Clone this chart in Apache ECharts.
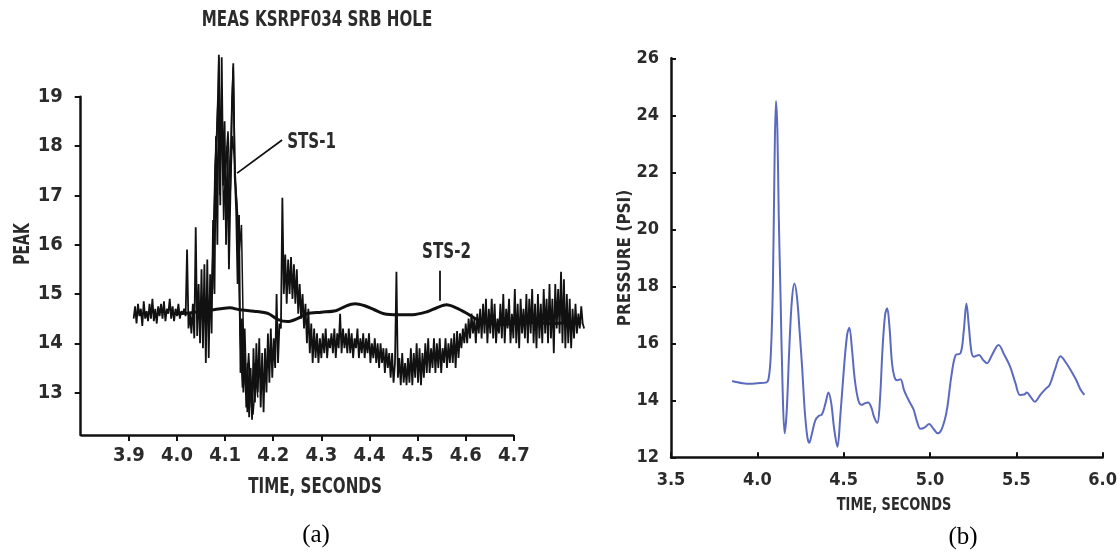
<!DOCTYPE html>
<html>
<head>
<meta charset="utf-8">
<script src="https://cdn.jsdelivr.net/npm/echarts@6.0.0/dist/echarts.min.js"></script>
<style>
  html, body { margin: 0; padding: 0; background: #ffffff; }
  #chart { width: 1120px; height: 552px; }
</style>
</head>
<body>
<div id="chart"></div>
<script>
// ---- Panel (a): MEAS KSRPF034 SRB HOLE ----
const A_X_TICKS = [3.9, 4.0, 4.1, 4.2, 4.3, 4.4, 4.5, 4.6, 4.7];
const A_Y_TICKS = [13, 14, 15, 16, 17, 18, 19];

// STS-1 record, sampled every 3 ms from 3.910 s
const STS1_START = 3.910;
const STS1_STEP = 0.003;
const STS1_VALUES = [
  14.5, 14.75, 14.4, 14.8, 14.55, 14.7, 14.35, 14.85, 14.5, 14.65,
  14.45, 14.8, 14.5, 14.9, 14.45, 14.7, 14.4, 14.75, 14.55, 14.8,
  14.5, 14.85, 14.45, 14.7, 14.6, 14.9, 14.5, 14.75, 14.45, 14.7,
  14.55, 14.8, 14.5, 14.65, 14.6, 14.7, 14.55, 15.9, 14.3, 14.6,
  14.2, 14.8, 14.1, 16.35, 14.15, 15.2, 14.0, 15.5, 13.9, 15.6,
  13.6, 15.7, 13.7, 15.4, 14.2, 16.5, 15.0, 18.2, 16.0, 19.85,
  16.8, 19.8, 17.2, 18.5, 16.0, 17.8, 15.5, 17.0, 18.6, 19.68,
  17.4, 16.7, 15.2, 16.6, 13.4, 14.5, 13.0, 13.8, 12.7, 13.6,
  12.5, 13.5, 12.45, 13.9, 12.8, 14.0, 13.0, 14.1, 12.7, 13.8,
  12.6, 13.9, 13.0, 14.2, 13.2, 14.3, 13.3, 14.1, 13.5, 15.0,
  13.6, 14.4, 14.3, 16.95, 15.0, 15.8, 14.8, 15.7, 15.0, 15.75,
  14.9, 15.6, 14.8, 15.5, 14.6, 15.2, 14.5, 15.0, 14.3, 14.8,
  14.0, 14.7, 13.8, 14.4, 13.6, 14.3, 13.7, 14.2, 13.6, 14.1,
  13.7, 14.2, 13.8, 14.3, 13.7, 14.1, 13.9, 14.2, 13.8, 14.3,
  13.7, 14.2, 13.9, 14.6, 13.8, 14.3, 13.9, 14.2, 13.8, 14.3,
  13.8, 14.2, 13.7, 14.1, 13.9, 14.3, 13.7, 14.1, 13.8, 14.2,
  13.7, 14.1, 13.8, 14.2, 13.6, 14.0, 13.7, 14.1, 13.6, 14.0,
  13.5, 14.0, 13.6, 13.9, 13.4, 13.9, 13.5, 13.8, 13.3, 13.8,
  13.2, 13.6, 15.45, 13.3, 13.7, 13.15, 13.8, 13.2, 13.6, 13.15,
  13.7, 13.2, 13.9, 13.15, 13.8, 13.3, 14.0, 13.2, 13.9, 13.15,
  13.8, 13.3, 14.0, 13.4, 14.1, 13.4, 13.9, 13.5, 14.1, 13.4,
  14.0, 13.5, 14.1, 13.4, 13.9, 13.6, 14.1, 13.5, 14.0, 13.6,
  14.1, 13.6, 14.2, 13.5, 14.25, 13.7, 14.2, 13.9, 14.3, 14.0,
  14.4, 14.0, 14.5, 14.1, 14.6, 14.2, 14.5, 14.0, 14.6, 14.2,
  14.7, 14.1, 14.8, 14.2, 14.9, 14.0, 14.7, 14.2, 14.9, 14.1,
  14.8, 14.0, 14.5, 14.2, 14.8, 14.1, 15.0, 14.0, 14.7, 14.3,
  14.9, 14.0, 14.6, 14.1, 15.1, 14.0, 14.8, 13.9, 14.9, 14.2,
  14.7, 14.1, 15.0, 14.0, 14.9, 14.2, 15.1, 14.0, 14.8, 13.9,
  15.0, 14.1, 14.8, 14.0, 15.1, 14.2, 14.9, 14.0, 15.2, 14.1,
  14.9, 13.8, 15.2, 14.3, 15.1, 14.2, 15.45, 14.0, 15.3, 13.9,
  15.0, 14.0, 14.9, 13.9, 14.7, 14.1, 14.8, 14.2, 14.6, 14.3,
  14.75, 14.4, 14.3
];

// Additional STS-1 passes through the ignition burst
const STS1_BURST_TIMES = [4.074, 4.079, 4.083, 4.087, 4.090, 4.094, 4.099, 4.104, 4.109, 4.114, 4.117, 4.121, 4.126, 4.131, 4.136, 4.141, 4.146, 4.152, 4.158, 4.163];
const STS1_BURST_VALUES = [15.1, 17.6, 18.3, 19.8, 17.9, 18.4, 17.3, 18.0, 16.6, 18.9, 19.6, 17.3, 16.6, 14.2, 13.1, 14.3, 12.6, 13.4, 12.55, 13.2];
const STS1_BURST2_TIMES = [4.070, 4.076, 4.081, 4.085, 4.089, 4.093, 4.097, 4.101, 4.106, 4.111, 4.115, 4.119, 4.124, 4.129, 4.134, 4.139, 4.144, 4.149, 4.155, 4.161, 4.168];
const STS1_BURST2_VALUES = [14.6, 16.2, 17.9, 18.9, 17.0, 18.7, 16.5, 17.6, 18.3, 17.1, 18.2, 17.8, 16.9, 15.8, 16.4, 13.6, 13.0, 13.8, 12.7, 13.6, 12.9];

// STS-2 record
const STS2_TIMES = [4.00, 4.03, 4.06, 4.09, 4.11, 4.13, 4.16, 4.19, 4.21, 4.23, 4.25, 4.27, 4.30, 4.33, 4.35, 4.37, 4.39, 4.41, 4.43, 4.46, 4.49, 4.52, 4.54, 4.56, 4.58, 4.60, 4.62, 4.64, 4.67, 4.70, 4.74, 4.78, 4.82, 4.84];
const STS2_VALUES = [14.6, 14.62, 14.66, 14.7, 14.72, 14.68, 14.65, 14.6, 14.48, 14.44, 14.5, 14.6, 14.63, 14.66, 14.75, 14.8, 14.76, 14.68, 14.6, 14.58, 14.58, 14.64, 14.72, 14.78, 14.72, 14.62, 14.5, 14.42, 14.38, 14.4, 14.42, 14.4, 14.42, 14.4];

// ---- Panel (b): pressure vs time ----
const B_X_TICKS = [3.5, 4.0, 4.5, 5.0, 5.5, 6.0];
const B_Y_TICKS = [12, 14, 16, 18, 20, 22, 24, 26];
const B_TIMES = [3.854, 3.88, 3.915, 3.96, 4.00, 4.049, 4.065, 4.078, 4.090, 4.100, 4.108, 4.116, 4.124, 4.135, 4.146, 4.158, 4.170, 4.185, 4.200, 4.215, 4.230, 4.245, 4.259, 4.275, 4.290, 4.301, 4.315, 4.336, 4.355, 4.374, 4.395, 4.412, 4.428, 4.445, 4.464, 4.480, 4.500, 4.520, 4.533, 4.548, 4.565, 4.585, 4.603, 4.625, 4.642, 4.660, 4.677, 4.695, 4.710, 4.725, 4.740, 4.752, 4.765, 4.780, 4.795, 4.810, 4.829, 4.850, 4.871, 4.890, 4.906, 4.925, 4.945, 4.970, 4.995, 5.020, 5.045, 5.065, 5.085, 5.101, 5.125, 5.149, 5.177, 5.195, 5.211, 5.225, 5.240, 5.254, 5.283, 5.310, 5.330, 5.360, 5.397, 5.430, 5.464, 5.495, 5.521, 5.545, 5.560, 5.585, 5.607, 5.640, 5.670, 5.693, 5.725, 5.756, 5.790, 5.820, 5.847, 5.870, 5.894];
const B_PRESSURE = [14.68, 14.64, 14.60, 14.58, 14.60, 14.62, 14.75, 15.6, 18.0, 22.5, 24.5, 23.5, 20.5, 17.5, 14.5, 12.84, 13.6, 15.8, 17.5, 18.1, 17.6, 16.4, 15.2, 13.6, 12.7, 12.51, 12.8, 13.3, 13.45, 13.5, 13.9, 14.27, 13.9, 13.0, 12.37, 13.4, 15.0, 16.3, 16.55, 15.8, 14.7, 14.0, 13.84, 13.9, 13.92, 13.75, 13.4, 13.21, 14.0, 15.8, 17.0, 17.23, 16.6, 15.3, 14.8, 14.7, 14.74, 14.35, 14.07, 13.85, 13.66, 13.25, 13.0, 13.05, 13.17, 13.0, 12.84, 12.95, 13.3, 13.78, 14.9, 15.59, 15.65, 16.4, 17.40, 16.6, 15.7, 15.53, 15.59, 15.4, 15.30, 15.6, 15.94, 15.6, 15.18, 14.6, 14.19, 14.2, 14.27, 14.1, 13.95, 14.2, 14.4, 14.54, 15.1, 15.55, 15.3, 15.0, 14.71, 14.4, 14.19];

const FONT = "'Liberation Sans Narrow', 'DejaVu Sans Condensed', Arial, sans-serif";
const SERIF = "'Liberation Serif', 'DejaVu Serif', serif";
const INK = '#111111';
const TEXT = '#2b2b2b';
const BLUE = '#5b6abf';

// Panel (a) time axis: labelled 3.8–4.7, the recording runs on past the last tick
const A_X_MIN = 3.8, A_X_AXIS_END = 4.7, A_X_MAX = 4.85;
const A_Y_MIN = 12.14, A_Y_MAX = 19;
const A_LEFT = 80.7, A_TOP = 96.7, A_PX_PER_SEC = 4813, A_HEIGHT = 338.3;

const pairs = (ts, vs) => ts.map((t, i) => [t, vs[i]]);
const sts1 = STS1_VALUES.map((v, i) => [+(STS1_START + i * STS1_STEP).toFixed(3), v]);
const sts1Burst = pairs(STS1_BURST_TIMES, STS1_BURST_VALUES);
const sts1Burst2 = pairs(STS1_BURST2_TIMES, STS1_BURST2_VALUES);
const sts2 = pairs(STS2_TIMES, STS2_VALUES);
const panelB = pairs(B_TIMES, B_PRESSURE);

const chart = echarts.init(document.getElementById('chart'), null, { renderer: 'canvas' });

const traceA = (name, data, width) => ({
  name: name, type: 'line', xAxisIndex: 0, yAxisIndex: 0, data: data,
  showSymbol: false, clip: false, lineStyle: { color: INK, width: width }
});

const option = {
  animation: false,
  backgroundColor: '#ffffff',
  grid: [
    { left: A_LEFT, top: A_TOP, width: (A_X_MAX - A_X_MIN) * A_PX_PER_SEC / 10, height: A_HEIGHT, containLabel: false },
    { left: 671, top: 58.3, width: 435.7, height: 399, containLabel: false }
  ],
  xAxis: [
    {
      gridIndex: 0, type: 'value', min: A_X_MIN, max: A_X_MAX,
      splitLine: { show: false },
      axisLine: { show: false },
      axisTick: { show: true, inside: false, length: 6, lineStyle: { color: INK, width: 2 }, customValues: A_X_TICKS },
      axisLabel: { show: true, margin: 11, color: TEXT, fontFamily: FONT, fontWeight: 'bold', fontSize: 20,
        customValues: A_X_TICKS, formatter: v => v.toFixed(1) }
    },
    {
      gridIndex: 1, type: 'value', min: 3.5, max: 6.0, interval: 0.5,
      splitLine: { show: false },
      axisLine: { show: true, onZero: false, lineStyle: { color: INK, width: 2.5 } },
      axisTick: { show: true, inside: true, length: 5, lineStyle: { color: INK, width: 2 }, customValues: B_X_TICKS },
      axisLabel: { show: true, margin: 14, color: TEXT, fontFamily: FONT, fontWeight: 'bold', fontSize: 18,
        customValues: B_X_TICKS, formatter: v => v.toFixed(1) }
    }
  ],
  yAxis: [
    {
      gridIndex: 0, type: 'value', min: A_Y_MIN, max: A_Y_MAX,
      splitLine: { show: false },
      axisLine: { show: true, onZero: false, lineStyle: { color: INK, width: 2.5 } },
      axisTick: { show: true, inside: false, length: 6, lineStyle: { color: INK, width: 2 }, customValues: A_Y_TICKS },
      axisLabel: { show: true, margin: 18, color: TEXT, fontFamily: FONT, fontWeight: 'bold', fontSize: 20,
        customValues: A_Y_TICKS, formatter: v => String(v) }
    },
    {
      gridIndex: 1, type: 'value', min: 12, max: 26, interval: 2,
      splitLine: { show: false },
      axisLine: { show: true, onZero: false, lineStyle: { color: INK, width: 2.5 } },
      axisTick: { show: true, inside: true, length: 5, lineStyle: { color: INK, width: 2 }, customValues: B_Y_TICKS },
      axisLabel: { show: true, margin: 12, color: TEXT, fontFamily: FONT, fontWeight: 'bold', fontSize: 18,
        customValues: B_Y_TICKS, formatter: v => String(v) }
    }
  ],
  series: [
    Object.assign(traceA('STS-1', sts1, 1.8), {
      // time axis baseline, stopping at the last labelled tick
      markLine: {
        silent: true, animation: false, symbol: ['none', 'none'],
        label: { show: false },
        lineStyle: { color: INK, width: 2.5, type: 'solid' },
        data: [[{ coord: [A_X_MIN, A_Y_MIN] }, { coord: [A_X_AXIS_END, A_Y_MIN] }]]
      }
    }),
    traceA('STS-1 burst', sts1Burst, 1.5),
    traceA('STS-1 burst 2', sts1Burst2, 1.5),
    {
      name: 'STS-2', type: 'line', xAxisIndex: 0, yAxisIndex: 0, data: sts2,
      showSymbol: false, clip: false, smooth: 0.3, lineStyle: { color: INK, width: 3 },
      markLine: {
        silent: true, animation: false,
        symbol: ['none', 'arrow'], symbolSize: [0, 9],
        label: { show: false },
        lineStyle: { color: INK, width: 1.8, type: 'solid' },
        data: [
          [{ coord: [4.2185, 18.12] }, { coord: [4.125, 17.45] }],
          [{ coord: [4.545, 15.47] }, { coord: [4.545, 14.86] }]
        ]
      }
    },
    {
      name: 'Pressure', type: 'line', xAxisIndex: 1, yAxisIndex: 1, data: panelB,
      showSymbol: false, smooth: 0.35, lineStyle: { color: BLUE, width: 2 }
    }
  ]
};

chart.setOption(option);

// Free text: titles, axis names, trace labels, panel letters
const p1 = chart.convertToPixel({ gridIndex: 0 }, [4.229, 18.08]);
const p2 = chart.convertToPixel({ gridIndex: 0 }, [4.56, 15.83]);
const boldText = (x, y, text, size, extra, align) => Object.assign({
  type: 'text', x: x, y: y, scaleX: 0.8,
  style: { text: text, fill: TEXT, font: 'bold ' + size + 'px ' + FONT, align: align || 'center', verticalAlign: 'middle' }
}, extra || {});

chart.setOption({
  graphic: [
    boldText(317, 21, 'MEAS KSRPF034 SRB HOLE', 21),
    boldText(24, 244, 'PEAK', 21, { rotation: Math.PI / 2, scaleX: 0.74 }),
    boldText(315, 488, 'TIME, SECONDS', 21),
    boldText(p1[0], p1[1], 'STS-1', 21, null, 'left'),
    boldText(p2[0], p2[1], 'STS-2', 21),
    boldText(626, 258, 'PRESSURE (PSI)', 17, { rotation: Math.PI / 2, scaleX: 1 }),
    boldText(894, 505, 'TIME, SECONDS', 18),
    { type: 'text', x: 316, y: 535, style: { text: '(a)', fill: '#000', font: '25px ' + SERIF, align: 'center', verticalAlign: 'middle' } },
    { type: 'text', x: 963, y: 537, style: { text: '(b)', fill: '#000', font: '25px ' + SERIF, align: 'center', verticalAlign: 'middle' } }
  ]
});
</script>
</body>
</html>
